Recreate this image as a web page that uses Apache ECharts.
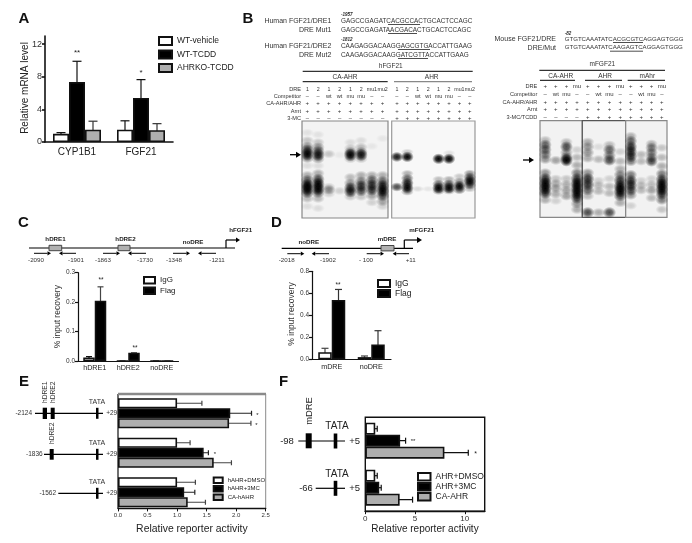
<!DOCTYPE html>
<html>
<head>
<meta charset="utf-8">
<script src="https://cdn.jsdelivr.net/npm/echarts@6/dist/echarts.min.js"></script>
<style>
  html, body { margin: 0; padding: 0; background: #fff; }
  #main { width: 692px; height: 543px; }
</style>
</head>
<body>
<div id="main"></div>
<script>
// panel A
var aCats = ["CYP1B1", "FGF21"];
var aVehicle = [1.0, 1.5];
var aVehicleTop = [1.15, 2.6];
var aTcdd = [7.35, 5.4];
var aTcddTop = [9.9, 7.65];
var aKo = [1.5, 1.45];
var aKoTop = [2.55, 2.25];
var aTicks = [0, 4, 8, 12];
// panel C
var cCats = ["hDRE1", "hDRE2", "noDRE"];
var cIgg = [0.012, 0, 0];
var cIggTop = [0.015, 0, 0];
var cFlag = [0.205, 0.028, 0];
var cFlagTop = [0.252, 0.028, 0];
// panel D
var dCats = ["mDRE", "noDRE"];
var dIgg = [0.065, 0.02];
var dIggTop = [0.1, 0.03];
var dFlag = [0.54, 0.135];
var dFlagTop = [0.635, 0.26];
// panel E
var eRows = ["-2124", "-1836", "-1562"];
var eDmso = [1.0, 1.0, 1.0];
var eDmsoTop = [1.42, 1.22, 1.31];
var e3mc = [1.9, 1.45, 1.12];
var e3mcTop = [2.26, 1.53, 1.3];
var eCa = [1.88, 1.62, 1.18];
var eCaTop = [2.25, 1.92, 1.48];
// panel F
var fRows = ["-98", "-66"];
var fDmso = [1.0, 1.0];
var fDmsoTop = [1.2, 1.2];
var f3mc = [3.5, 1.4];
var f3mcTop = [4.05, 1.6];
var fCa = [7.95, 3.45];
var fCaTop = [10.35, 4.75];
// gel bands: [lane, migration 0-100 from the top of the gel, darkness 0-1]
var gel1Bands = [
  [0,12,.08],[0,20,.2],[0,26,.4],[0,30,.7],[0,34,1],[0,38,.5],[0,46,.1],[0,56,.3],[0,61,.6],[0,66,1],[0,70,1],[0,74,.7],[0,80,.25],[0,88,.1],
  [1,14,.08],[1,22,.2],[1,27,.4],[1,31,.6],[1,35,.9],[1,39,.4],[1,46,.1],[1,54,.3],[1,60,.7],[1,65,1],[1,70,1],[1,74,.6],[1,80,.25],[1,90,.1],
  [2,34,.2],[2,68,.2],[2,71,.4],[2,75,.15],
  [3,35,.05],[3,72,.15],
  [4,22,.1],[4,28,.2],[4,32,.5],[4,35,1],[4,39,.25],[4,58,.25],[4,64,.4],[4,69,.8],[4,73,.8],[4,78,.2],
  [5,20,.1],[5,27,.25],[5,32,.5],[5,35,.9],[5,39,.25],[5,56,.3],[5,62,.5],[5,67,.8],[5,72,.7],[5,78,.2],
  [6,26,.06],[6,56,.3],[6,61,.6],[6,66,.8],[6,71,.8],[6,77,.35],[6,84,.15],
  [7,18,.06],[7,56,.3],[7,62,.6],[7,67,.9],[7,72,1],[7,77,.7],[7,83,.35],[7,88,.15]
];
var gel2Bands = [
  [0,37,.9],[0,68,.7],
  [1,32,.2],[1,37,1],[1,54,.3],[1,59,.6],[1,64,.9],[1,69,1],[1,73,.4],
  [2,70,.12],
  [3,70,.08],
  [4,39,1],[4,60,.25],[4,65,.6],[4,69,1],[4,72,.5],
  [5,33,.1],[5,39,1],[5,60,.3],[5,65,.7],[5,69,1],[5,72,.4],
  [6,57,.2],[6,62,.4],[6,67,1],[6,71,.6],
  [7,54,.4],[7,58,.7],[7,62,1],[7,66,.7],[7,70,.25]
];
var gel3Bands = [
  [0,20,.25],[0,25,.6],[0,30,.6],[0,35,.5],[0,40,.4],[0,54,.4],[0,60,.8],[0,65,1],[0,70,1],[0,75,.8],[0,82,.3],
  [1,41,.35],[1,60,.2],[1,65,.3],[1,70,.35],[1,76,.3],[1,83,.15],
  [2,22,.25],[2,27,.7],[2,33,.4],[2,38,.6],[2,41,1],[2,60,.2],[2,66,.3],[2,72,.35],[2,78,.35],
  [3,30,.15],[3,38,.25],[3,46,.3],[3,54,.5],[3,60,.8],[3,65,1],[3,70,1],[3,75,1],[3,80,.8],[3,86,.4],[3,92,.3]
];
var gel4Bands = [
  [0,22,.3],[0,27,.4],[0,33,.4],[0,39,.3],[0,54,.4],[0,60,.8],[0,66,.8],[0,72,.6],[0,78,.25],[0,95,.7],
  [1,27,.1],[1,40,.25],[1,62,.15],[1,67,.25],[1,73,.25],[1,95,.3],
  [2,25,.25],[2,30,.6],[2,36,.5],[2,41,.7],[2,60,.15],[2,68,.25],[2,75,.25],[2,95,.7],
  [3,32,.15],[3,42,.25],[3,50,.3],[3,56,.5],[3,62,.8],[3,68,1],[3,73,1],[3,78,.7],[3,85,.3]
];
var gel5Bands = [
  [0,16,.3],[0,21,.6],[0,27,.8],[0,32,.8],[0,37,.8],[0,42,.5],[0,56,.5],[0,62,.8],[0,67,.8],[0,72,.7],[0,77,.4],[0,88,.15],
  [1,35,.25],[1,42,.25],[1,62,.15],[1,67,.25],[1,72,.25],
  [2,24,.3],[2,28,.5],[2,33,.5],[2,38,.5],[2,42,.7],[2,60,.15],[2,66,.25],[2,72,.35],[2,80,.25],
  [3,28,.2],[3,38,.25],[3,47,.3],[3,55,.5],[3,61,.8],[3,66,1],[3,71,1],[3,76,.8],[3,82,.5],[3,92,.2]
];

var FONT = '"Liberation Sans", Arial, sans-serif';
var GREY = "#aeaeae";
var grids = [], xAxes = [], yAxes = [], series = [], gfx = [], legends = [];

// ---- graphic helpers for the drawn annotations
function text(x, y, str, size, opt) {
  opt = opt || {};
  gfx.push({
    type: "text", x: x, y: y, rotation: opt.rotate || 0, silent: true,
    style: {
      x: 0, y: 0, text: str, fill: opt.color || "#222",
      font: (opt.weight || "normal") + " " + size + "px " + FONT,
      align: opt.align || "center", verticalAlign: "middle"
    }
  });
}
function line(x1, y1, x2, y2, w, color) {
  gfx.push({
    type: "line", silent: true,
    shape: { x1: x1, y1: y1, x2: x2, y2: y2 },
    style: { stroke: color || "#000", lineWidth: w || 1 }
  });
}
function box(x, y, w, h, fill, stroke) {
  gfx.push({
    type: "rect", silent: true,
    shape: { x: x, y: y, width: w, height: h },
    style: { fill: fill || "#000", stroke: stroke || null, lineWidth: stroke ? 1 : 0 }
  });
}
function arrow(x1, x2, y, w, head) {
  var d = x2 > x1 ? 1 : -1;
  line(x1, y, x2 - d * head, y, w);
  gfx.push({
    type: "polygon", silent: true,
    shape: { points: [[x2, y], [x2 - d * head, y - head * 0.6], [x2 - d * head, y + head * 0.6]] },
    style: { fill: "#000" }
  });
}

// ---- error bars, top value of each bar, pixel offset from the category centre
function errorBars(ax, tops, offset, capLen, color, horizontal) {
  series.push({
    type: "custom", xAxisIndex: ax, yAxisIndex: ax, silent: true, z: 1,
    data: tops.map(function (v, i) { return horizontal ? [v, i] : [i, v]; }),
    renderItem: function (params, api) {
      var top = api.coord([api.value(0), api.value(1)]);
      var base = horizontal ? api.coord([0, api.value(1)]) : api.coord([api.value(0), 0]);
      var st = { stroke: color, lineWidth: 1.2 };
      var a, b;
      if (horizontal) {
        a = { x1: base[0], y1: top[1] + offset, x2: top[0], y2: top[1] + offset };
        b = { x1: top[0], y1: top[1] + offset - capLen, x2: top[0], y2: top[1] + offset + capLen };
      } else {
        a = { x1: top[0] + offset, y1: base[1], x2: top[0] + offset, y2: top[1] };
        b = { x1: top[0] + offset - capLen, y1: top[1], x2: top[0] + offset + capLen, y2: top[1] };
      }
      return { type: "group", children: [
        { type: "line", shape: a, style: st },
        { type: "line", shape: b, style: st }
      ] };
    }
  });
}

// groups: [{name, values, tops, fill, err}]
function barGroup(ax, groups, barW, cap, horizontal) {
  groups.forEach(function (g, i) {
    var offset = (i - (groups.length - 1) / 2) * barW;
    errorBars(ax, g.tops, offset, cap, g.err || "#111", horizontal);
    series.push({
      type: "bar", name: g.name, xAxisIndex: ax, yAxisIndex: ax, z: 2,
      data: g.values, barWidth: barW, barGap: 0, silent: true,
      itemStyle: { color: g.fill, borderColor: "#111", borderWidth: 1.6 }
    });
  });
}

function addLegend(names, left, top, w, h, gap, size) {
  legends.push({
    data: names, left: left, top: top, orient: "vertical", itemWidth: w, itemHeight: h,
    itemGap: gap, padding: 0, selectedMode: false, icon: "rect",
    textStyle: { fontSize: size, color: "#222", fontFamily: FONT, padding: [0, 0, 0, 0] }
  });
}

// ---- vertical bar panels A, C, D
function verticalPanel(left, right, top, bottom, cats, max, interval, fontTick, fontCat, lw, catMargin) {
  var ax = grids.length;
  grids.push({ left: left, top: top, width: right - left, height: bottom - top });
  xAxes.push({
    gridIndex: ax, type: "category", data: cats,
    axisLine: { lineStyle: { color: "#111", width: lw } },
    axisTick: { show: false },
    axisLabel: { fontSize: fontCat, color: "#222", fontFamily: FONT, margin: catMargin, interval: 0 }
  });
  yAxes.push({
    gridIndex: ax, type: "value", min: 0, max: max, interval: interval,
    splitLine: { show: false },
    axisLine: { show: true, lineStyle: { color: "#111", width: lw } },
    axisTick: { show: true, length: 3, lineStyle: { color: "#111", width: lw } },
    axisLabel: {
      fontSize: fontTick, color: "#333", fontFamily: FONT, margin: 3,
      formatter: function (v) { return interval < 1 ? v.toFixed(1) : String(v); }
    }
  });
  return ax;
}

// A
var axA = verticalPanel(45, 173, 36, 142, aCats, 13, 4, 9, 10, 1.6, 5);
yAxes[axA].axisTick.customValues = aTicks;
yAxes[axA].axisLabel.customValues = aTicks;
barGroup(axA, [
  { name: "WT-vehicle", values: aVehicle, tops: aVehicleTop, fill: "#fff" },
  { name: "WT-TCDD", values: aTcdd, tops: aTcddTop, fill: "#000" },
  { name: "AHRKO-TCDD", values: aKo, tops: aKoTop, fill: GREY, err: "#333" }
], 16, 4.5);
addLegend(["WT-vehicle", "WT-TCDD", "AHRKO-TCDD"], 158, 36, 13, 8, 3.5, 8.5);

// C
var axC = verticalPanel(78, 178.5, 272.7, 361, cCats, 0.3, 0.1, 6.5, 7.2, 1.2, 4);
barGroup(axC, [
  { name: "IgG", values: cIgg, tops: cIggTop, fill: "#fff" },
  { name: "Flag", values: cFlag, tops: cFlagTop, fill: "#000", err: "#444" }
], 11.5, 3);
addLegend(["IgG", "Flag"], 143, 276, 11, 6.5, 2, 8);

// D
var axD = verticalPanel(312, 391, 271.3, 359.3, dCats, 0.8, 0.2, 6.5, 7.2, 1.2, 4);
barGroup(axD, [
  { name: "IgG", values: dIgg, tops: dIggTop, fill: "#fff", err: "#444" },
  { name: "Flag", values: dFlag, tops: dFlagTop, fill: "#000", err: "#333" }
], 13.5, 3.5);
addLegend(["IgG", "Flag"], 377, 279, 12, 7, 1, 8.5);

// ---- horizontal bar panels E, F
function horizontalPanel(left, right, top, bottom, cats, max, interval, fontTick, name, nameGap, nameSize, opts) {
  var ax = grids.length;
  grids.push(Object.assign({ left: left, top: top, width: right - left, height: bottom - top }, opts.grid));
  xAxes.push({
    gridIndex: ax, type: "value", min: 0, max: max, interval: interval, offset: opts.offset || 0,
    splitLine: { show: false },
    axisLine: { show: true, lineStyle: { color: "#111", width: 1.4 } },
    axisTick: { show: true, length: 3, lineStyle: { color: "#111", width: 1 }, customValues: opts.ticks },
    axisLabel: {
      fontSize: fontTick, color: "#333", fontFamily: FONT, margin: 4, customValues: opts.ticks,
      formatter: function (v) { return interval < 1 ? v.toFixed(1) : String(v); }
    },
    name: name, nameLocation: "middle", nameGap: nameGap,
    nameTextStyle: { fontSize: nameSize, color: "#222", fontFamily: FONT }
  });
  yAxes.push({
    gridIndex: ax, type: "category", data: cats, inverse: true,
    axisLine: { show: false }, axisTick: { show: false }, axisLabel: { show: false }
  });
  return ax;
}

// E
var axE = horizontalPanel(118, 265.7, 393.5, 512, eRows, 2.5, 0.5, 6, "Relative reporter activity", 16, 10.4, { offset: -3.6 });
barGroup(axE, [
  { name: "hAHR+DMSO", values: eDmso, tops: eDmsoTop, fill: "#fff", err: "#444" },
  { name: "hAHR+3MC", values: e3mc, tops: e3mcTop, fill: "#000", err: "#222" },
  { name: "CA-hAHR", values: eCa, tops: eCaTop, fill: GREY, err: "#444" }
], 10, 2.5, true);
addLegend(["hAHR+DMSO", "hAHR+3MC", "CA-hAHR"], 212.7, 476.5, 9, 5.5, 1, 6);
line(118, 394, 118, 508.5, 1.4, "#333");
line(118, 394, 266, 394, 2.4, "#8a8a8a");
line(265.7, 394, 265.7, 508.5, 1, "#8a8a8a");

// F
var axF = horizontalPanel(365.3, 484.7, 417.2, 511.2, fRows, 12, 5, 8, "Relative reporter activity", 12, 10, {
  ticks: [0, 5, 10],
  grid: { show: true, borderColor: "#111", borderWidth: 1.4 }
});
barGroup(axF, [
  { name: "AHR+DMSO", values: fDmso, tops: fDmsoTop, fill: "#fff" },
  { name: "AHR+3MC", values: f3mc, tops: f3mcTop, fill: "#000" },
  { name: "CA-AHR", values: fCa, tops: fCaTop, fill: GREY }
], 12, 3, true);
addLegend(["AHR+DMSO", "AHR+3MC", "CA-AHR"], 417, 472, 12.5, 7.5, 0.5, 8.5);

// ---- gels, every band is a soft blob so neighbours melt into a smear
var softBand = {
  type: "radial", x: 0.5, y: 0.5, r: 0.5,
  colorStops: [
    { offset: 0, color: "rgba(0,0,0,1)" },
    { offset: 0.45, color: "rgba(0,0,0,0.8)" },
    { offset: 1, color: "rgba(0,0,0,0)" }
  ]
};
function gel(left, right, top, bottom, lanes, bands, bg, border, soft) {
  var ax = grids.length;
  grids.push({ left: left, top: top, width: right - left, height: bottom - top, show: true,
    backgroundColor: bg, borderColor: border, borderWidth: 1.2 });
  xAxes.push({ gridIndex: ax, type: "value", min: -0.5, max: lanes - 0.5, show: false });
  yAxes.push({ gridIndex: ax, type: "value", min: 0, max: 100, inverse: true, show: false });
  var laneW = (right - left) / lanes * 1.25;
  series.push({
    type: "scatter", xAxisIndex: ax, yAxisIndex: ax, silent: true, clip: true,
    itemStyle: { color: softBand },
    data: bands.map(function (b) {
      return { value: [b[0], b[1]], symbolSize: [laneW, soft + 5 * b[2]], itemStyle: { opacity: b[2] } };
    })
  });
}
gel(302, 388, 121, 218, 8, gel1Bands, "#f3f3f3", "#888", 8);
gel(391.7, 475, 121, 218, 8, gel2Bands, "#f8f8f8", "#999", 6);
gel(540, 582.3, 120.7, 217.3, 4, gel3Bands, "#f2f2f2", "#888", 8);
gel(582.3, 625.7, 120.7, 217.3, 4, gel4Bands, "#f2f2f2", "#555", 8);
gel(625.7, 667, 120.7, 217.3, 4, gel5Bands, "#f2f2f2", "#888", 8);

function laneRow(left, right, y, labels, size) {
  var w = (right - left) / labels.length;
  labels.forEach(function (s, i) { text(left + (i + 0.5) * w, y, s, size, { color: "#333" }); });
}

// ---- panel letters
[["A", 24, 19], ["B", 248, 19], ["C", 23.5, 223], ["D", 276.5, 223], ["E", 24, 381.5], ["F", 283.5, 381.5]].forEach(function (p) {
  text(p[1], p[2], p[0], 15, { weight: "bold", color: "#111" });
});

// ---- panel A extras
text(25, 88, "Relative mRNA level", 10, { rotate: Math.PI / 2 });
text(77, 53, "**", 8);
text(141, 72.5, "*", 8);

// ---- panel B sequences
var seqSize = 6.4;
[["Human FGF21/DRE1", "GAGCCGAGATCACGCCACTGCACTCCAGC", 21],
 ["DRE Mut1", "GAGCCGAGATAACGACACTGCACTCCAGC", 30],
 ["Human FGF21/DRE2", "CAAGAGGACAAGGAGCGTGACCATTGAAG", 46],
 ["DRE Mut2", "CAAGAGGACAAGGATCGTTACCATTGAAG", 55]].forEach(function (r) {
  text(331.3, r[2], r[0], 7, { align: "right", color: "#333" });
  text(341, r[2], r[1], seqSize, { align: "left", color: "#333" });
});
text(341, 15, "-1957", 4.5, { align: "left", weight: "italic bold" });
text(341, 40, "-1812", 4.5, { align: "left", weight: "italic bold" });
line(388, 24.5, 420, 24.5, 0.7);
line(388, 33.5, 417, 33.5, 0.7);
line(398, 49.5, 430, 49.5, 0.7);
line(398, 58.5, 428, 58.5, 0.7);

text(556, 39, "Mouse FGF21/DRE", 7, { align: "right", color: "#333" });
text(556, 47.7, "DRE/Mut", 7, { align: "right", color: "#333" });
text(564.7, 39, "GTGTCAAATATCACGCGTCAGGAGTGGG", 6.1, { align: "left", color: "#333" });
text(564.7, 47.7, "GTGTCAAATATCAAGAGTCAGGAGTGGG", 6.1, { align: "left", color: "#333" });
text(564.7, 33.3, "-82", 4.5, { align: "left", weight: "italic bold" });
line(613, 42.5, 643, 42.5, 0.7);
line(610, 51.2, 643, 51.2, 0.7);

// ---- panel B gel headers, human
text(390.7, 66.7, "hFGF21", 6.5, { color: "#333" });
line(302.7, 71.3, 472.7, 71.3, 1);
text(345, 77.3, "CA-AHR", 6.5, { color: "#333" });
line(302.7, 81.7, 387.7, 81.7, 1);
text(431.7, 77.3, "AHR", 6.5, { color: "#333" });
line(394, 81.7, 472, 81.7, 1.2, "#888");
["DRE", "Competitor", "CA-AHR/AHR", "Arnt", "3-MC"].forEach(function (s, i) {
  text(301, [89, 96.5, 103.7, 111, 118.7][i], s, 5.6, { align: "right", color: "#333" });
});
var hDre = ["1", "2", "1", "2", "1", "2", "mu1", "mu2"];
var hComp = ["–", "–", "wt", "wt", "mu", "mu", "–", "–"];
var plus8 = ["+", "+", "+", "+", "+", "+", "+", "+"];
var minus8 = ["–", "–", "–", "–", "–", "–", "–", "–"];
[[302, 388, minus8], [391.7, 475, plus8]].forEach(function (g) {
  laneRow(g[0], g[1], 89.3, hDre, 5.3);
  laneRow(g[0], g[1], 96.7, hComp, 5.6);
  laneRow(g[0], g[1], 103.7, plus8, 6);
  laneRow(g[0], g[1], 111, plus8, 6);
  laneRow(g[0], g[1], 118.2, g[2], 6);
});
arrow(290, 301, 154.7, 1.3, 5);

// ---- panel B gel headers, mouse
text(602.3, 64.7, "mFGF21", 6.5, { color: "#333" });
line(539.3, 70.3, 665, 70.3, 1);
text(560.7, 76, "CA-AHR", 6.5, { color: "#333" });
line(540, 80.3, 575, 80.3, 1);
text(605, 76, "AHR", 6.5, { color: "#333" });
line(585, 80.3, 622, 80.3, 1);
text(647.3, 76, "mAhr", 6.5, { color: "#333" });
line(627.7, 80.3, 665, 80.3, 1);
["DRE", "Competitor", "CA-AHR/AHR", "Arnt", "3-MC/TCDD"].forEach(function (s, i) {
  text(537.3, [86.7, 94.7, 102, 109.3, 117][i], s, 5.6, { align: "right", color: "#333" });
});
var mDre = ["+", "+", "+", "mu"];
var mComp = ["–", "wt", "mu", "–"];
var plus4 = ["+", "+", "+", "+"];
var minus4 = ["–", "–", "–", "–"];
[[540, 582.3, minus4], [582.3, 625.7, plus4], [625.7, 667, plus4]].forEach(function (g) {
  laneRow(g[0], g[1], 86.7, mDre, 6);
  laneRow(g[0], g[1], 94.7, mComp, 6);
  laneRow(g[0], g[1], 102, plus4, 6);
  laneRow(g[0], g[1], 109.3, plus4, 6);
  laneRow(g[0], g[1], 117, g[2], 6);
});
arrow(523, 534, 160, 1.3, 5);

// ---- panel C schematic
line(29, 248, 235, 248, 1.2);
box(49, 245.3, 12.7, 5.4, "#b0b0b0", "#444");
box(118, 245.3, 12, 5.4, "#b0b0b0", "#444");
text(55.5, 239, "hDRE1", 6.2, { weight: "bold" });
text(125.5, 239, "hDRE2", 6.2, { weight: "bold" });
text(193, 242.7, "noDRE", 6.2, { weight: "bold" });
text(240.7, 230.7, "hFGF21", 6.2, { weight: "bold" });
line(226, 248, 226, 240, 1.2);
arrow(226, 240, 240, 1.2, 4);
arrow(34, 51, 253.3, 1, 3.5);
arrow(76, 59, 253.3, 1, 3.5);
arrow(103, 120, 253.3, 1, 3.5);
arrow(146, 128, 253.3, 1, 3.5);
arrow(173, 190, 253.3, 1, 3.5);
arrow(216, 198, 253.3, 1, 3.5);
[["-2090", 36], ["-1901", 76], ["-1863", 103], ["-1730", 145], ["-1348", 174], ["-1211", 217]].forEach(function (p) {
  text(p[1], 260.7, p[0], 6.2, { color: "#333" });
});
text(57.5, 316.7, "% input recovery", 8.5, { rotate: Math.PI / 2, color: "#333" });
text(101, 280, "**", 6.5);
text(135, 348.5, "**", 6.5);

// ---- panel D schematic
line(281.7, 248.3, 413, 248.3, 1.2);
box(381, 245.5, 13, 5.4, "#b0b0b0", "#444");
text(387, 239.3, "mDRE", 6.2, { weight: "bold" });
text(308.7, 242.7, "noDRE", 6.2, { weight: "bold" });
text(421.7, 230.7, "mFGF21", 6.2, { weight: "bold" });
line(404.3, 248.3, 404.3, 240, 1.2);
arrow(404.3, 422, 240, 1.2, 5);
arrow(287.3, 304.3, 253.7, 1, 3.5);
arrow(329, 311.7, 253.7, 1, 3.5);
arrow(366.7, 384, 253.7, 1, 3.5);
arrow(409, 392.7, 253.7, 1, 3.5);
[["-2018", 286.7], ["-1902", 328], ["- 100", 366], ["+11", 410.7]].forEach(function (p) {
  text(p[1], 260.7, p[0], 6.2, { color: "#333" });
});
text(291.7, 314, "% input recovery", 8.5, { rotate: Math.PI / 2, color: "#333" });
text(338, 285, "**", 6.5);

// ---- panel E schematic
function eRow(y, labelX, lineStart) {
  text(labelX, y, eRows[eSchem++], 6.5, { color: "#333" });
  line(lineStart, y, 103, y, 1.2);
  box(96, y - 5.5, 2.5, 11);
  text(97, y - 11, "TATA", 7, { color: "#333" });
  text(111.7, y, "+29", 6.5, { color: "#333" });
}
var eSchem = 0;
eRow(413.3, 23.7, 35);
eRow(454.3, 34.3, 44);
eRow(493.3, 47.7, 58.3);
box(42.7, 407.7, 4.3, 11.3);
box(50.7, 407.7, 4, 11.3);
box(49.7, 449, 4, 10.7);
text(45, 392.3, "hDRE1", 6.7, { rotate: Math.PI / 2, color: "#333" });
text(53.3, 392.3, "hDRE2", 6.7, { rotate: Math.PI / 2, color: "#333" });
text(52, 433.3, "hDRE2", 6.7, { rotate: Math.PI / 2, color: "#333" });
text(257.5, 415, "*", 6);
text(256.3, 425, "*", 6);
text(215, 454, "*", 6);

// ---- panel F schematic
function fRow(y, labelX, lineStart) {
  text(labelX, y, fRows[fSchem++], 9.5, { color: "#222" });
  line(lineStart, y, 345, y, 1.2);
  box(333.7, y - 7.5, 3.6, 15);
  text(337, y - 14.5, "TATA", 10, { color: "#222" });
  text(354.7, y, "+5", 9.5, { color: "#222" });
}
var fSchem = 0;
fRow(441, 287, 298.3);
fRow(488.3, 306, 315.7);
box(305.7, 433.3, 6, 15);
text(309, 411, "mDRE", 9.4, { rotate: Math.PI / 2, color: "#222" });
text(413, 441, "**", 6);
text(475.7, 454, "*", 7);

var myChart = echarts.init(document.getElementById("main"));
myChart.setOption({
  animation: false,
  backgroundColor: "#fff",
  textStyle: { fontFamily: FONT },
  grid: grids,
  xAxis: xAxes,
  yAxis: yAxes,
  legend: legends,
  series: series,
  graphic: { elements: gfx }
});
</script>
</body>
</html>
